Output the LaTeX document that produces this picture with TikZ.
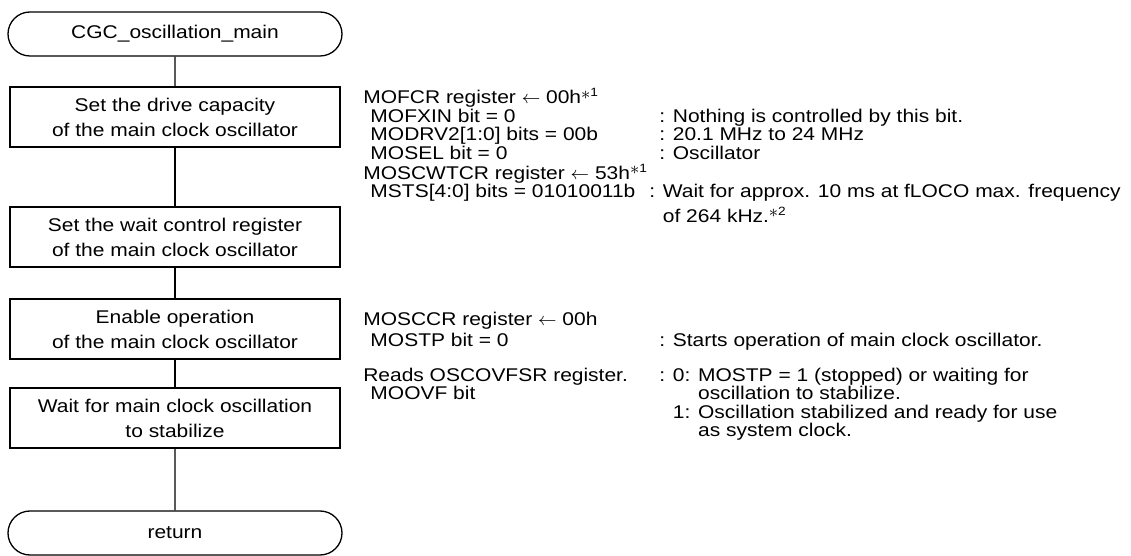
\documentclass[tikz,border=0pt]{standalone}
\usepackage{fontspec}
\setmainfont{Liberation Sans}[FakeStretch=1.14]
\usetikzlibrary{positioning, shapes.misc}

\newcommand{\ind}{\hspace*{3.6pt}}
\newcommand{\regcol}[1]{\makebox[148pt][l]{#1}}
\newcommand{\fnote}[1]{\raisebox{0.25em}{$\ast$}\raisebox{0.4em}{\fontsize{6pt}{6pt}\selectfont #1}}
\newcommand{\regfont}{\fontsize{9.2pt}{9.25pt}\selectfont\lineskiplimit=-100pt\relax}

\begin{document}
\begin{tikzpicture}[
        node distance = 40pt, on grid, line width = 0.65pt,
        every node/.style = {font = \fontsize{9.2pt}{12.5pt}\selectfont},
        term/.style = {draw, rounded rectangle, minimum width = 167pt, minimum height = 22pt, inner sep = 0pt},
        proc/.style = {draw, rectangle, minimum width = 165pt, minimum height = 30pt, align = center, inner sep = 0pt},
        regs/.style = {align = left, inner sep = 0pt, anchor = north west, font = \regfont}
    ]
      \useasboundingbox (-87.5pt, 17pt) rectangle (478pt, -261pt);

      % flow
      \node[term] (start) {CGC\_oscillation\_main};
      \node[proc] (drive) [below = 41.5pt of start] {Set the drive capacity\\of the main clock oscillator};
      \node[proc] (waitreg) [below = 60pt of drive] {Set the wait control register\\of the main clock oscillator};
      \node[proc] (enable) [below = 46pt of waitreg] {Enable operation\\of the main clock oscillator};
      \node[proc] (stab) [below = 44.5pt of enable] {Wait for main clock oscillation\\to stabilize};
      \node[term] (ret) [below = 57.5pt of stab] {return};

      \path
        (start) edge (drive)
        (drive) edge (waitreg)
        (waitreg) edge (enable)
        (enable) edge (stab)
        (stab) edge (ret);

      % register settings
      \node[regs] (mofcr) at ([xshift = 11pt, yshift = -0.5pt] drive.north east) {%
        MOFCR register $\leftarrow$ 00h\fnote{1}\\
        \regcol{\ind MOFXIN bit = 0}: Nothing is controlled by this bit.\\
        \regcol{\ind MODRV2[1:0] bits = 00b}: 20.1 MHz to 24 MHz\\
        \regcol{\ind MOSEL bit = 0}: Oscillator};
      \node[regs] (moscwtcr) at ([yshift = -1.6pt] mofcr.south west) {%
        MOSCWTCR register $\leftarrow$ 53h\fnote{1}\\
        \regcol{\ind MSTS[4:0] bits = 01010011b}\hspace*{-5pt}: Wait for approx. 10 ms at fLOCO max. frequency\\[3pt]
        \regcol{}\hspace*{-5pt}\phantom{: }of 264 kHz.\fnote{2}};
      \node[regs, anchor = west] (mosccr) at ([xshift = 11pt, yshift = -1pt] enable.east) {%
        MOSCCR register $\leftarrow$ 00h\\[1pt]
        \regcol{\ind MOSTP bit = 0}: Starts operation of main clock oscillator.};
      \node[regs] (oscovfsr) at ([xshift = 11pt, yshift = 10pt] stab.north east) {%
        \regcol{Reads OSCOVFSR register.}: 0: MOSTP = 1 (stopped) or waiting for\\
        \regcol{\ind MOOVF bit}\phantom{: 0: }oscillation to stabilize.\\
        \regcol{}\phantom{: }1: Oscillation stabilized and ready for use\\
        \regcol{}\phantom{: 1: }as system clock.};
\end{tikzpicture}
\end{document}
